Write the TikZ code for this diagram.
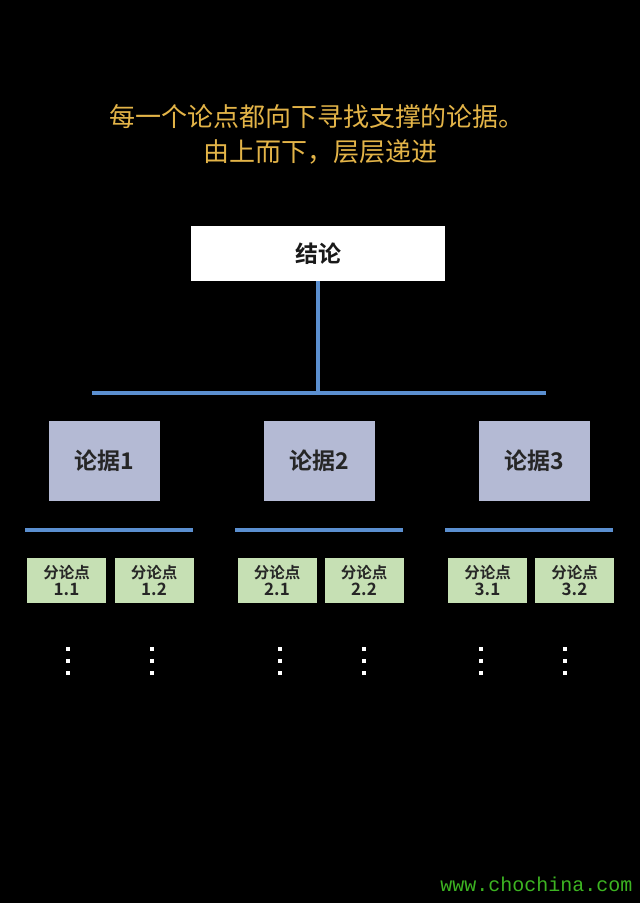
\documentclass[tikz,border=0pt]{standalone}
\usepackage{fontspec}
\setmainfont{Noto Sans CJK SC}
\newfontfamily\cjk{Noto Sans CJK SC}
\newfontfamily\cjkbold{Noto Sans CJK SC Bold}
\newfontfamily\wmono{Liberation Mono}
\definecolor{gold}{HTML}{E3B448}
\definecolor{lineblue}{HTML}{5B8FD0}
\definecolor{lav}{HTML}{B4BAD4}
\definecolor{pgreen}{HTML}{C6E0B4}
\definecolor{wgreen}{HTML}{3DB422}
\begin{document}
\begin{tikzpicture}[x=1pt,y=-1pt,
  conn/.style={draw=lineblue,line width=3.5pt},
  topbox/.style={fill=white,draw=none,minimum width=254pt,minimum height=55pt,inner sep=0pt,font=\cjkbold\fontsize{23}{26}\selectfont,text=black!90},
  argbox/.style={fill=lav,draw=none,minimum width=111pt,minimum height=80pt,inner sep=0pt,font=\cjkbold\fontsize{23}{26}\selectfont,text=black!85},
  subbox/.style={fill=pgreen,draw=none,minimum width=79pt,minimum height=45pt,inner sep=0pt,align=center,font=\cjkbold\fontsize{15.5}{17}\selectfont,text=black!85},
  dotv/.style={fill=white,draw=none,minimum size=4pt,inner sep=0pt}]
\fill[black] (0,0) rectangle (640,903);
\useasboundingbox (0,0) rectangle (640,903);
\node[text=gold,font=\cjk\fontsize{26}{28}\selectfont] (t1) at (317,117) {每一个论点都向下寻找支撑的论据。};
\node[text=gold,font=\cjk\fontsize{26}{28}\selectfont] (t2) at (320,152) {由上而下，层层递进};
\node[topbox] (top) at (318,253.5) {结论};
\coordinate (hl) at (92,393);
\coordinate (hr) at (546,393);
\coordinate (hm) at (318,393);
\draw[conn] (top.south) -- (hm);
\draw[conn] (hl) -- (hr);
\node[argbox] (a1) at (104.5,461) {论据1};
\node[argbox] (a2) at (319.5,461) {论据2};
\node[argbox] (a3) at (534.5,461) {论据3};
\coordinate (l1a) at (25,530); \coordinate (l1b) at (193,530);
\coordinate (l2a) at (235,530); \coordinate (l2b) at (403,530);
\coordinate (l3a) at (445,530); \coordinate (l3b) at (613,530);
\draw[conn] (l1a) -- (l1b);
\draw[conn] (l2a) -- (l2b);
\draw[conn] (l3a) -- (l3b);
\newcommand\subtxt[1]{分论点\\[0pt]{\fontsize{17}{18}\selectfont #1}}
\node[subbox] (s11) at (66.5,580.5) {\subtxt{1.1}};
\node[subbox] (s12) at (154,580.5) {\subtxt{1.2}};
\node[subbox] (s21) at (277,580.5) {\subtxt{2.1}};
\node[subbox] (s22) at (364,580.5) {\subtxt{2.2}};
\node[subbox] (s31) at (487.5,580.5) {\subtxt{3.1}};
\node[subbox] (s32) at (574.5,580.5) {\subtxt{3.2}};
\foreach \n/\x in {d1/68,d2/152,d3/280,d4/364,d5/481,d6/565}{
  \node[dotv] (\n a) at (\x,649) {};
  \node[dotv] (\n b) at (\x,661) {};
  \node[dotv] (\n c) at (\x,673) {};
}
\node[text=wgreen,font=\wmono\fontsize{20}{22}\selectfont,anchor=east] (wm) at (636,884) {www.chochina.com};
\end{tikzpicture}
\end{document}
